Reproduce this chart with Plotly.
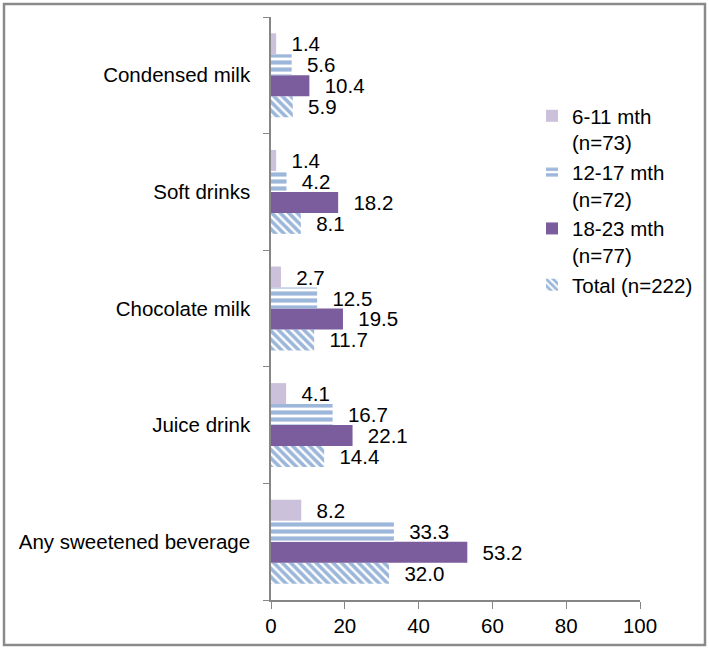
import plotly.graph_objects as go

categories = ["Any sweetened beverage", "Juice drink", "Chocolate milk", "Soft drinks", "Condensed milk"]
series_names = ["6-11 mth<br>(n=73)", "12-17 mth<br>(n=72)", "18-23 mth<br>(n=77)", "Total (n=222)"]
v_6_11 = [8.2, 4.1, 2.7, 1.4, 1.4]
v_12_17 = [33.3, 16.7, 12.5, 4.2, 5.6]
v_18_23 = [53.2, 22.1, 19.5, 18.2, 10.4]
v_total = [32.0, 14.4, 11.7, 8.1, 5.9]
x_ticks = [0, 20, 40, 60, 80, 100]

BLUE = "#3a6fb5"
FONT = "Liberation Sans"
FS = 20.5

styles = [
    dict(color="#ccc1da"),
    dict(color="white", pattern=dict(shape="-", fgcolor=BLUE, bgcolor="white", size=7, solidity=0.6)),
    dict(color="#7b5c9c"),
    dict(color="white", pattern=dict(shape="\\", fgcolor=BLUE, bgcolor="white", size=6, solidity=0.6)),
]
values = [v_6_11, v_12_17, v_18_23, v_total]

fig = go.Figure()
# add in reverse so that 6-11 is drawn at the top of each group
for name, vals, st in reversed(list(zip(series_names, values, styles))):
    fig.add_trace(go.Bar(
        y=categories, x=vals, name=name, orientation="h",
        marker=dict(line=dict(width=0), **st),
        text=["\u2009\u2009\u2009" + f"{v:.1f}" for v in vals],
        textposition="outside", constraintext="none", cliponaxis=False,
        textfont=dict(family=FONT, size=FS, color="black"),
    ))

pl, pr, pt, pb = 271, 640, 17, 600
W, H = 709, 649
pw, ph = pr - pl, pb - pt

def px(xp):
    return (xp - pl) / pw

def py(yp):
    return (pb - yp) / ph

fig.update_layout(
    width=W, height=H,
    margin=dict(l=pl, r=W - pr, t=pt, b=H - pb, autoexpand=False),
    paper_bgcolor="white", plot_bgcolor="white",
    barmode="group", bargap=0.28, bargroupgap=0,
    font=dict(family=FONT, size=FS, color="black"),
    showlegend=True,
    legend=dict(x=px(532), y=py(96), xanchor="left", yanchor="top",
                traceorder="reversed", valign="top",
                font=dict(family=FONT, size=FS, color="black"),
                bgcolor="rgba(0,0,0,0)", itemwidth=30, tracegroupgap=0),
    xaxis=dict(range=[0, 100], tickvals=x_ticks, showgrid=False, zeroline=False,
               showline=True, linecolor="#868686", linewidth=1.5,
               ticks="outside", ticklen=7, tickcolor="#868686",
               tickfont=dict(family=FONT, size=FS, color="black")),
    yaxis=dict(showgrid=False, showline=True, linecolor="#868686", linewidth=1.5,
               ticks="outside", ticklen=6, tickcolor="#868686", tickson="boundaries",
               tickfont=dict(family=FONT, size=FS, color="black"), ticklabelstandoff=15),
    shapes=[dict(type="rect", xref="paper", yref="paper",
                 x0=px(4), x1=px(705), y0=py(645), y1=py(4),
                 line=dict(color="#8a8a8a", width=2.5), layer="below")],
)

fig.write_html("out.html", config={"displayModeBar": False},
               post_script="document.body.style.margin='0';document.body.style.overflow='hidden';")
